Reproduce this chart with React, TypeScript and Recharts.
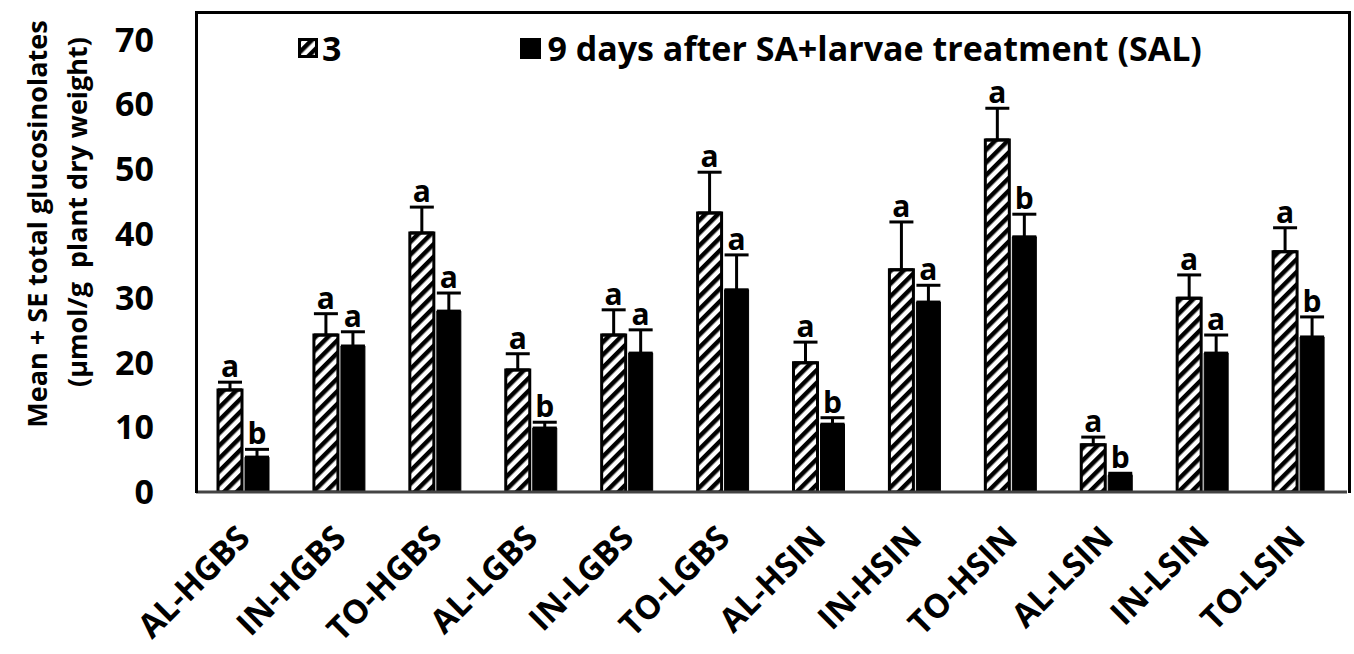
import React from 'react';
import { BarChart, Bar, XAxis, YAxis, ErrorBar, LabelList } from 'recharts';

const categories = [
  'AL-HGBS', 'IN-HGBS', 'TO-HGBS', 'AL-LGBS', 'IN-LGBS', 'TO-LGBS',
  'AL-HSIN', 'IN-HSIN', 'TO-HSIN', 'AL-LSIN', 'IN-LSIN', 'TO-LSIN',
];
const day3 = [15.8, 24.3, 40.1, 18.9, 24.3, 43.2, 20.0, 34.4, 54.5, 7.3, 30.0, 37.2];
const day3Se = [1.2, 3.3, 4.0, 2.5, 3.9, 6.3, 3.2, 7.4, 4.9, 1.2, 3.6, 3.7];
const day9 = [5.4, 22.6, 28.0, 9.9, 21.5, 31.3, 10.5, 29.4, 39.5, 2.6, 21.5, 24.0];
const day9Se = [1.2, 2.2, 2.8, 0.9, 3.6, 5.4, 1.0, 2.6, 3.5, 0.3, 2.8, 3.1];
const day3Letters = ['a', 'a', 'a', 'a', 'a', 'a', 'a', 'a', 'a', 'a', 'a', 'a'];
const day9Letters = ['b', 'a', 'a', 'b', 'a', 'a', 'b', 'a', 'b', 'b', 'a', 'b'];
const yTicks = [0, 10, 20, 30, 40, 50, 60, 70];

const FONT = '"Open Sans", sans-serif';

const data = categories.map((name, i) => ({
  name,
  d3: day3[i],
  d3err: [0, day3Se[i]],
  d9: day9[i],
  d9err: [0, day9Se[i]],
}));

// letter above the error bar cap
const letterLabel = (letters: string[], se: number[]) => (props: any) => {
  const { x, y, width, height, value, index } = props;
  const ppu = value ? height / value : 0;
  const top = y - se[index] * ppu;
  return (
    <text
      x={x + width / 2}
      y={top - 5}
      textAnchor="middle"
      fontFamily={FONT}
      fontWeight={700}
      fontSize={30}
      fill="#000"
    >
      {letters[index]}
    </text>
  );
};

const XTick = ({ x, y, payload }: any) => (
  <g transform={`translate(${x + 8},${y + 40})`}>
    <text
      transform="rotate(-45)"
      textAnchor="end"
      fontFamily={FONT}
      fontWeight={700}
      fontSize={33}
      fill="#000"
    >
      {payload.value}
    </text>
  </g>
);

const HatchSwatch = () => (
  <svg width={20} height={20}>
    <defs>
      <pattern id="hatchLegend" patternUnits="userSpaceOnUse" width={9} height={9} patternTransform="rotate(45)">
        <rect x={0} y={0} width={4.5} height={9} fill="#000" />
      </pattern>
    </defs>
    <rect x={1.5} y={1.5} width={17} height={17} fill="url(#hatchLegend)" stroke="#000" strokeWidth={3} />
  </svg>
);

const LegendBox = () => (
  <div
    style={{
      position: 'absolute',
      left: 298,
      top: 31,
      display: 'flex',
      alignItems: 'center',
      fontFamily: FONT,
      fontWeight: 700,
      fontSize: 34,
      lineHeight: '34px',
      whiteSpace: 'nowrap',
    }}
  >
    <HatchSwatch />
    <span style={{ marginLeft: 4 }}>3</span>
    <div style={{ width: 21, height: 21, background: '#000', marginLeft: 179 }} />
    <span style={{ marginLeft: 6 }}>9 days after SA+larvae treatment (SAL)</span>
  </div>
);

export default function App() {
  return (
    <div style={{ position: 'absolute', left: 0, top: 0, width: 1354, height: 654, background: '#fff' }}>
      <BarChart
        width={1354}
        height={654}
        data={data}
        margin={{ top: 12, right: 7, left: 96, bottom: 12 }}
        barSize={24}
        barGap={3}
      >
        <defs>
          <pattern id="hatch" patternUnits="userSpaceOnUse" width={9} height={9} patternTransform="rotate(45)">
            <rect x={0} y={0} width={9} height={9} fill="#fff" />
            <rect x={0} y={0} width={4.5} height={9} fill="#000" />
          </pattern>
        </defs>
        <XAxis
          dataKey="name"
          height={150}
          interval={0}
          tick={<XTick />}
          tickLine={false}
          axisLine={{ stroke: '#444', strokeWidth: 3 }}
        />
        <YAxis
          width={100}
          domain={[0, 74.3]}
          allowDataOverflow
          ticks={yTicks}
          tickLine={false}
          axisLine={false}
          tickMargin={36}
          tick={{ fontFamily: FONT, fontWeight: 700, fontSize: 34, fill: '#000' }}
        />
        <Bar dataKey="d3" fill="url(#hatch)" stroke="#000" strokeWidth={3} isAnimationActive={false}>
          <ErrorBar dataKey="d3err" direction="y" width={12} stroke="#000" strokeWidth={3} />
          <LabelList dataKey="d3" content={letterLabel(day3Letters, day3Se)} />
        </Bar>
        <Bar dataKey="d9" fill="#000" stroke="#000" strokeWidth={1} isAnimationActive={false}>
          <ErrorBar dataKey="d9err" direction="y" width={12} stroke="#000" strokeWidth={3} />
          <LabelList dataKey="d9" content={letterLabel(day9Letters, day9Se)} />
        </Bar>
      </BarChart>
      <LegendBox />
      {/* plot frame */}
      <div
        style={{
          position: 'absolute',
          left: 195,
          top: 11,
          width: 1150,
          height: 479,
          borderTop: '3px solid #000',
          borderLeft: '3px solid #000',
          borderRight: '3px solid #000',
          pointerEvents: 'none',
        }}
      />
      {/* y axis title */}
      <svg style={{ position: 'absolute', left: 0, top: 0 }} width={110} height={654}>
        <text
          transform="translate(36,224) rotate(-90)"
          textAnchor="middle"
          dominantBaseline="central"
          fontFamily={FONT}
          fontWeight={700}
          fontSize={27}
          fill="#000"
        >
          Mean + SE total glucosinolates
        </text>
        <text
          transform="translate(76,212) rotate(-90)"
          textAnchor="middle"
          dominantBaseline="central"
          fontFamily={FONT}
          fontWeight={700}
          fontSize={27}
          fill="#000"
          xmlSpace="preserve"
        >
          (µmol/g  plant dry weight)
        </text>
      </svg>
    </div>
  );
}
